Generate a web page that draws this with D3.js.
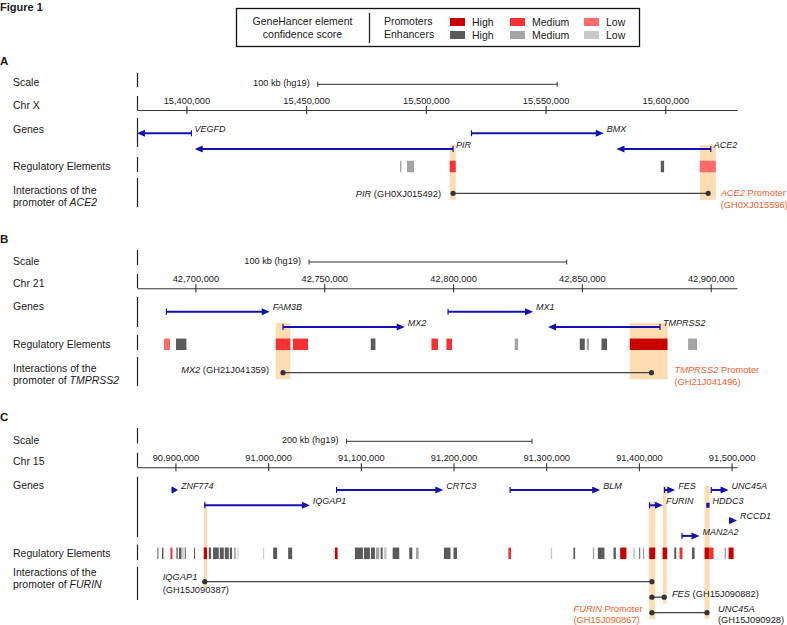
<!DOCTYPE html>
<html><head><meta charset="utf-8">
<script src="https://cdn.jsdelivr.net/npm/d3@7"></script>
<style>
body{margin:0;background:#fff;}
svg{display:block;}
</style></head>
<body><svg id="c" width="787" height="625"></svg>
<script>
// ---------------- DATA ----------------
const scoreLevels = ["High", "Medium", "Low"];

// Panel A : Chr X
const aDomain = [15379365, 15629950];
const aTicks = [15400000, 15450000, 15500000, 15550000, 15600000];
const aScaleBar = [15454846, 15554846];
const aGenes = [
  {name: "VEGFD", start: 15363714, end: 15402089, strand: "-", row: 0},
  {name: "PIR", start: 15403467, end: 15511362, strand: "-", row: 1},
  {name: "BMX", start: 15519047, end: 15574310, strand: "+", row: 0},
  {name: "ACE2", start: 15579615, end: 15619006, strand: "-", row: 1}
];
const aElements = [
  {start: 15489230, end: 15489800, type: "E", level: "Medium"},
  {start: 15492145, end: 15495070, type: "E", level: "Medium"},
  {start: 15509982, end: 15512488, type: "P", level: "Medium"},
  {start: 15598120, end: 15599500, type: "E", level: "High"},
  {start: 15614410, end: 15621090, type: "P", level: "Low"}
];
const aHighlights = [
  {start: 15509982, end: 15512488, geneRow: 1, interRow: 0},
  {start: 15614410, end: 15621090, geneRow: 1, interRow: 0}
];
const aInteractions = [{from: 15511362, to: 15617900, row: 0}];

// Panel B : Chr 21
const bDomain = [42677329, 42910210];
const bTicks = [42700000, 42750000, 42800000, 42850000, 42900000];
const bScaleBar = [42744100, 42844100];
const bGenes = [
  {name: "FAM3B", start: 42688742, end: 42728843, strand: "+", row: 0},
  {name: "MX2", start: 42734006, end: 42781250, strand: "+", row: 1},
  {name: "MX1", start: 42798059, end: 42831056, strand: "+", row: 0},
  {name: "TMPRSS2", start: 42836879, end: 42880318, strand: "-", row: 1}
];
const bElements = [
  {start: 42687811, end: 42690140, type: "P", level: "Low"},
  {start: 42692469, end: 42696506, type: "E", level: "High"},
  {start: 42731172, end: 42736879, type: "P", level: "Medium"},
  {start: 42737888, end: 42743711, type: "P", level: "Medium"},
  {start: 42768052, end: 42769876, type: "E", level: "High"},
  {start: 42791615, end: 42794177, type: "P", level: "Medium"},
  {start: 42797438, end: 42799612, type: "P", level: "Medium"},
  {start: 42823952, end: 42825233, type: "E", level: "Medium"},
  {start: 42849185, end: 42851126, type: "E", level: "High"},
  {start: 42851902, end: 42852795, type: "E", level: "Medium"},
  {start: 42857608, end: 42859782, type: "E", level: "High"},
  {start: 42868594, end: 42883229, type: "P", level: "High"},
  {start: 42891227, end: 42894721, type: "E", level: "Medium"}
];
const bHighlights = [
  {start: 42731172, end: 42736879, geneRow: 1, interRow: 0},
  {start: 42868594, end: 42883229, geneRow: 1, interRow: 0}
];
const bInteractions = [{from: 42734006, to: 42877010, row: 0}];

// Panel C : Chr 15
const cDomain = [90858531, 91505831];
const cTicks = [90900000, 91000000, 91100000, 91200000, 91300000, 91400000, 91500000];
const cScaleBar = [91084663, 91284663];
const cGenes = [
  {name: "ZNF774", start: 90896328, end: 90902808, strand: "+", row: 0},
  {name: "IQGAP1", start: 90931641, end: 91045031, strand: "+", row: 1},
  {name: "CRTC3", start: 91073864, end: 91188981, strand: "+", row: 0},
  {name: "BLM", start: 91261015, end: 91358207, strand: "+", row: 0},
  {name: "FURIN", start: 91411449, end: 91425920, strand: "+", row: 1},
  {name: "FES", start: 91427648, end: 91439203, strand: "+", row: 0},
  {name: "HDDC3", start: 91472680, end: 91476244, strand: "-", row: 1},
  {name: "UNC45A", start: 91478080, end: 91496762, strand: "+", row: 0},
  {name: "RCCD1", start: 91497842, end: 91510000, strand: "+", row: 2},
  {name: "MAN2A2", start: 91446441, end: 91465447, strand: "+", row: 3}
];
const cElements = [
  {start: 90880562, end: 90881642, type: "E", level: "High"},
  {start: 90885529, end: 90887041, type: "E", level: "High"},
  {start: 90894600, end: 90896760, type: "P", level: "Medium"},
  {start: 90901080, end: 90902484, type: "E", level: "High"},
  {start: 90903888, end: 90906479, type: "E", level: "High"},
  {start: 90907559, end: 90908639, type: "E", level: "Medium"},
  {start: 90910043, end: 90911123, type: "E", level: "High"},
  {start: 90920086, end: 90921166, type: "E", level: "High"},
  {start: 90930561, end: 90934125, type: "P", level: "High"},
  {start: 90935961, end: 90938444, type: "E", level: "High"},
  {start: 90940604, end: 90946760, type: "E", level: "High"},
  {start: 90947840, end: 90952159, type: "E", level: "High"},
  {start: 90953239, end: 90957559, type: "E", level: "High"},
  {start: 90958639, end: 90961123, type: "E", level: "High"},
  {start: 90963283, end: 90965118, type: "E", level: "Medium"},
  {start: 90966954, end: 90968034, type: "E", level: "Low"},
  {start: 90994599, end: 90995679, type: "E", level: "Low"},
  {start: 91005398, end: 91009718, type: "E", level: "High"},
  {start: 91021597, end: 91025916, type: "E", level: "High"},
  {start: 91072028, end: 91074944, type: "P", level: "High"},
  {start: 91093626, end: 91102265, type: "E", level: "High"},
  {start: 91103345, end: 91109824, type: "E", level: "High"},
  {start: 91110904, end: 91115224, type: "E", level: "High"},
  {start: 91116304, end: 91119868, type: "E", level: "Medium"},
  {start: 91121380, end: 91123539, type: "E", level: "High"},
  {start: 91124943, end: 91127859, type: "E", level: "Low"},
  {start: 91134338, end: 91141465, type: "E", level: "High"},
  {start: 91152265, end: 91155504, type: "E", level: "High"},
  {start: 91159504, end: 91162416, type: "E", level: "Medium"},
  {start: 91189736, end: 91196756, type: "E", level: "High"},
  {start: 91200000, end: 91203780, type: "E", level: "High"},
  {start: 91259180, end: 91262096, type: "P", level: "Medium"},
  {start: 91304963, end: 91306367, type: "E", level: "Low"},
  {start: 91329366, end: 91331202, type: "E", level: "High"},
  {start: 91350318, end: 91351722, type: "E", level: "Medium"},
  {start: 91355718, end: 91362845, type: "E", level: "High"},
  {start: 91372565, end: 91375157, type: "E", level: "High"},
  {start: 91379800, end: 91386541, type: "P", level: "High"},
  {start: 91394163, end: 91395243, type: "E", level: "Medium"},
  {start: 91400318, end: 91401398, type: "E", level: "High"},
  {start: 91404313, end: 91405717, type: "E", level: "Medium"},
  {start: 91411125, end: 91417604, type: "P", level: "High"},
  {start: 91425489, end: 91430565, type: "P", level: "High"},
  {start: 91438124, end: 91440284, type: "E", level: "High"},
  {start: 91443844, end: 91447083, type: "P", level: "Medium"},
  {start: 91457248, end: 91460056, type: "E", level: "High"},
  {start: 91470840, end: 91476240, type: "P", level: "High"},
  {start: 91476240, end: 91480560, type: "P", level: "Medium"},
  {start: 91492439, end: 91493950, type: "E", level: "Medium"},
  {start: 91496758, end: 91502158, type: "P", level: "High"}
];
const cHighlights = [
  {start: 90930561, end: 90934125, geneRow: 1, interRow: 0},
  {start: 91411125, end: 91417604, geneRow: 1, interRow: 2},
  {start: 91425920, end: 91429808, geneRow: 0, interRow: 1},
  {start: 91470840, end: 91476240, geneRow: 0, interRow: 2}
];
const cInteractions = [
  {from: 90931641, to: 91414032, row: 0},
  {from: 91414032, to: 91427324, row: 1},
  {from: 91414032, to: 91473440, row: 2}
];

// ---------------- STYLE ----------------
const FONT = "Arial, 'Liberation Sans', Helvetica, sans-serif";
const promoterColors = {High: "#c80000", Medium: "#f43232", Low: "#ff6b6b"};
const enhancerColors = {High: "#5a5a5a", Medium: "#a4a4a4", Low: "#c8c8c8"};
const GENE = "#1212b0";
const HL = "#fddcb1";
const ORANGE = "#f2612c";
const TXT = "#1a1a1a";
const X0 = 137, X1 = 737;

const svg = d3.select("#c").attr("font-family", FONT);
svg.append("rect").attr("width", 787).attr("height", 625).attr("fill", "#fff");

function txt(g, x, y, parts, opts = {}) {
  const t = g.append("text").attr("x", x).attr("y", y).attr("dy", "0.35em")
    .attr("font-size", opts.size || 10.5).attr("fill", opts.color || TXT)
    .attr("text-anchor", opts.anchor || "start");
  if (opts.bold) t.attr("font-weight", "bold");
  (typeof parts === "string" ? [[parts, false]] : parts).forEach(([s, it, col]) => {
    const ts = t.append("tspan").text(s);
    if (it) ts.attr("font-style", "italic");
    if (col) ts.attr("fill", col);
  });
  return t;
}

// Title
txt(svg, 0, 7, "Figure 1", {bold: true, size: 11});

// Legend
const lg = svg.append("g");
lg.append("rect").attr("x", 236.5).attr("y", 8.5).attr("width", 403).attr("height", 38)
  .attr("fill", "none").attr("stroke", "#111").attr("stroke-width", 1.3);
txt(lg, 302.5, 21.5, "GeneHancer element", {anchor: "middle"});
txt(lg, 302.5, 34.5, "confidence score", {anchor: "middle"});
lg.append("line").attr("x1", 369.5).attr("x2", 369.5).attr("y1", 13).attr("y2", 43).attr("stroke", "#222").attr("stroke-width", 1.3);
txt(lg, 384, 21.5, "Promoters");
txt(lg, 384, 34.5, "Enhancers");
const swXpos = {High: 450, Medium: 510, Low: 584};
scoreLevels.forEach(l => {
  lg.append("rect").attr("x", swXpos[l]).attr("y", 18).attr("width", 15).attr("height", 8).attr("fill", promoterColors[l]);
  lg.append("rect").attr("x", swXpos[l]).attr("y", 31).attr("width", 15).attr("height", 8).attr("fill", enhancerColors[l]);
  txt(lg, swXpos[l] + 22, 22, l);
  txt(lg, swXpos[l] + 22, 35, l);
});

// Panel drawing
function drawPanel(p) {
  const x = d3.scaleLinear().domain(p.domain).range([X0, X1]);
  const g = svg.append("g");
  const gy = r => p.geneY0 + r * p.geneDy;
  const iy = r => p.interY0 + r * p.interDy;

  txt(g, 0, p.yLetter, p.letter, {bold: true, size: 11.5});
  txt(g, 13, p.yScale, "Scale");
  txt(g, 13, p.yChr, p.chr);
  txt(g, 13, p.yGenes, "Genes");
  txt(g, 13, p.yReg, "Regulatory Elements");
  txt(g, 13, p.yInter[0], "Interactions of the");
  txt(g, 13, p.yInter[1], [["promoter of ", false], [p.target, true]]);

  p.seps.forEach(([a, b]) => g.append("line").attr("x1", X0 + 0.5).attr("x2", X0 + 0.5)
    .attr("y1", a).attr("y2", b).attr("stroke", "#222").attr("stroke-width", 1.2));

  // highlights
  p.highlights.forEach(h => {
    const top = gy(h.geneRow) - 4, bot = iy(h.interRow) + 6.5;
    g.append("rect").attr("x", x(h.start)).attr("width", x(h.end) - x(h.start))
      .attr("y", top).attr("height", bot - top).attr("fill", HL);
  });

  // scale bar
  const sb = g.append("g").attr("stroke", "#333").attr("stroke-width", 1);
  sb.append("line").attr("x1", x(p.scaleBar[0])).attr("x2", x(p.scaleBar[1])).attr("y1", p.yScaleBar).attr("y2", p.yScaleBar);
  p.scaleBar.forEach(v => sb.append("line").attr("x1", x(v)).attr("x2", x(v)).attr("y1", p.yScaleBar - 2.5).attr("y2", p.yScaleBar + 2.5));
  txt(g, x(p.scaleBar[0]) - 8, p.yScale, p.scaleLabel, {anchor: "end", size: 9.2});

  // axis
  const ax = d3.axisTop(x).tickValues(p.ticks).tickSizeInner(4).tickSizeOuter(0).tickPadding(2.5).tickFormat(d3.format(","));
  const axg = g.append("g").attr("transform", `translate(0,${p.axisY})`).call(ax);
  axg.attr("font-family", FONT).attr("font-size", 9.3);
  axg.select(".domain").attr("stroke", "#333").attr("stroke-width", 1.1);
  axg.selectAll(".tick line").attr("y1", 4).attr("y2", -4).attr("stroke", "#333").attr("stroke-width", 1.1);
  axg.selectAll(".tick text").attr("fill", TXT);

  // genes
  p.genes.forEach(gn => {
    const y = gy(gn.row);
    const a = x(Math.max(gn.start, p.domain[0])), b = x(Math.min(gn.end, p.domain[1]));
    if (b - a < 5) {
      g.append("rect").attr("x", a).attr("y", y - 2.5).attr("width", b - a).attr("height", 5).attr("fill", GENE);
    } else {
      const dir = gn.strand === "+" ? 1 : -1;
      const tss = dir > 0 ? a : b, tip = dir > 0 ? b : a;
      const hl = Math.min(8, b - a);
      g.append("line").attr("x1", tss).attr("x2", tip - dir * (hl - 1)).attr("y1", y).attr("y2", y)
        .attr("stroke", GENE).attr("stroke-width", 2);
      g.append("path").attr("d", `M${tip},${y}L${tip - dir * hl},${y - 3.5}L${tip - dir * hl},${y + 3.5}Z`).attr("fill", GENE);
      g.append("line").attr("x1", tss).attr("x2", tss).attr("y1", y - 3).attr("y2", y + 3)
        .attr("stroke", GENE).attr("stroke-width", 1.2);
    }
    txt(g, b + 3, y - 4.5, [[gn.name, true]], {size: 9});
  });

  // regulatory elements
  p.elements.forEach(e => {
    g.append("rect").attr("x", x(e.start)).attr("width", Math.max(1, x(e.end) - x(e.start)))
      .attr("y", p.yReg - 5.75).attr("height", 11.5)
      .attr("fill", (e.type === "P" ? promoterColors : enhancerColors)[e.level]);
  });

  // interactions
  p.interactions.forEach(it => {
    const y = iy(it.row);
    g.append("line").attr("x1", x(it.from)).attr("x2", x(it.to)).attr("y1", y).attr("y2", y)
      .attr("stroke", "#444").attr("stroke-width", 1.3);
    [it.from, it.to].forEach(v => g.append("circle").attr("cx", x(v)).attr("cy", y).attr("r", 2.6).attr("fill", "#333"));
  });

  // interaction labels
  p.labels.forEach(l => {
    l.lines.forEach((parts, i) => {
      txt(g, x(l.pos) + l.dx, iy(l.row) + l.dy + i * (l.lh || 11.5), parts, {anchor: l.anchor, size: 9.3, color: l.color || TXT});
    });
  });
}

drawPanel({
  letter: "A", chr: "Chr X", target: "ACE2", domain: aDomain, ticks: aTicks, scaleBar: aScaleBar,
  scaleLabel: "100 kb (hg19)", genes: aGenes, elements: aElements, highlights: aHighlights, interactions: aInteractions,
  yLetter: 61, yScale: 82.7, yScaleBar: 84.3, yChr: 105, axisY: 110, yGenes: 129, geneY0: 133.3, geneDy: 15.7,
  yReg: 166.5, yInter: [190, 202.5], interY0: 193.3, interDy: 15.5,
  seps: [[73, 87], [96, 110], [118, 147], [157, 172], [178, 207]],
  labels: [
    {pos: 15511362, row: 0, dx: -12, dy: 0, anchor: "end", lines: [[["PIR", true], [" (GH0XJ015492)", false]]]},
    {pos: 15617900, row: 0, dx: 12.5, dy: -1, anchor: "start", color: ORANGE, lh: 12.5,
      lines: [[["ACE2", true], [" Promoter", false]], [["(GH0XJ015596)", false]]]}
  ]
});

drawPanel({
  letter: "B", chr: "Chr 21", target: "TMPRSS2", domain: bDomain, ticks: bTicks, scaleBar: bScaleBar,
  scaleLabel: "100 kb (hg19)", genes: bGenes, elements: bElements, highlights: bHighlights, interactions: bInteractions,
  yLetter: 239, yScale: 261, yScaleBar: 262, yChr: 283.3, axisY: 288.3, yGenes: 306.7, geneY0: 311.7, geneDy: 15.3,
  yReg: 344.3, yInter: [368.3, 380.5], interY0: 372.7, interDy: 15.5,
  seps: [[250, 265], [274, 288], [297, 327], [335, 350], [357, 386]],
  labels: [
    {pos: 42734006, row: 0, dx: -14, dy: -3.3, anchor: "end", lines: [[["MX2", true], [" (GH21J041359)", false]]]},
    {pos: 42877010, row: 0, dx: 23, dy: -2.7, anchor: "start", color: ORANGE,
      lines: [[["TMPRSS2", true], [" Promoter", false]], [["(GH21J041496)", false]]]}
  ]
});

drawPanel({
  letter: "C", chr: "Chr 15", target: "FURIN", domain: cDomain, ticks: cTicks, scaleBar: cScaleBar,
  scaleLabel: "200 kb (hg19)", genes: cGenes, elements: cElements, highlights: cHighlights, interactions: cInteractions,
  yLetter: 416.7, yScale: 440, yScaleBar: 441.3, yChr: 461.7, axisY: 467.3, yGenes: 485, geneY0: 490, geneDy: 15.3,
  yReg: 553.3, yInter: [572, 584.5], interY0: 581.7, interDy: 15.5,
  seps: [[428, 443.5], [452.7, 467.3], [476.7, 537], [544.5, 560], [567, 600]],
  labels: [
    {pos: 90931641, row: 0, dx: -42, dy: -4.5, anchor: "start", lh: 12.5, lines: [[["IQGAP1", true]], [["(GH15J090387)", false]]]},
    {pos: 91427324, row: 1, dx: 7.7, dy: -3, anchor: "start", lines: [[["FES", true], [" (GH15J090882)", false]]]},
    {pos: 91473440, row: 2, dx: 11, dy: -4.4, anchor: "start", lines: [[["UNC45A", true]], [["(GH15J090928)", false]]]},
    {pos: 91414032, row: 2, dx: -78.4, dy: -4.4, anchor: "start", color: ORANGE,
      lines: [[["FURIN", true], [" Promoter", false]], [["(GH15J090867)", false]]]}
  ]
});
</script>
</body></html>
